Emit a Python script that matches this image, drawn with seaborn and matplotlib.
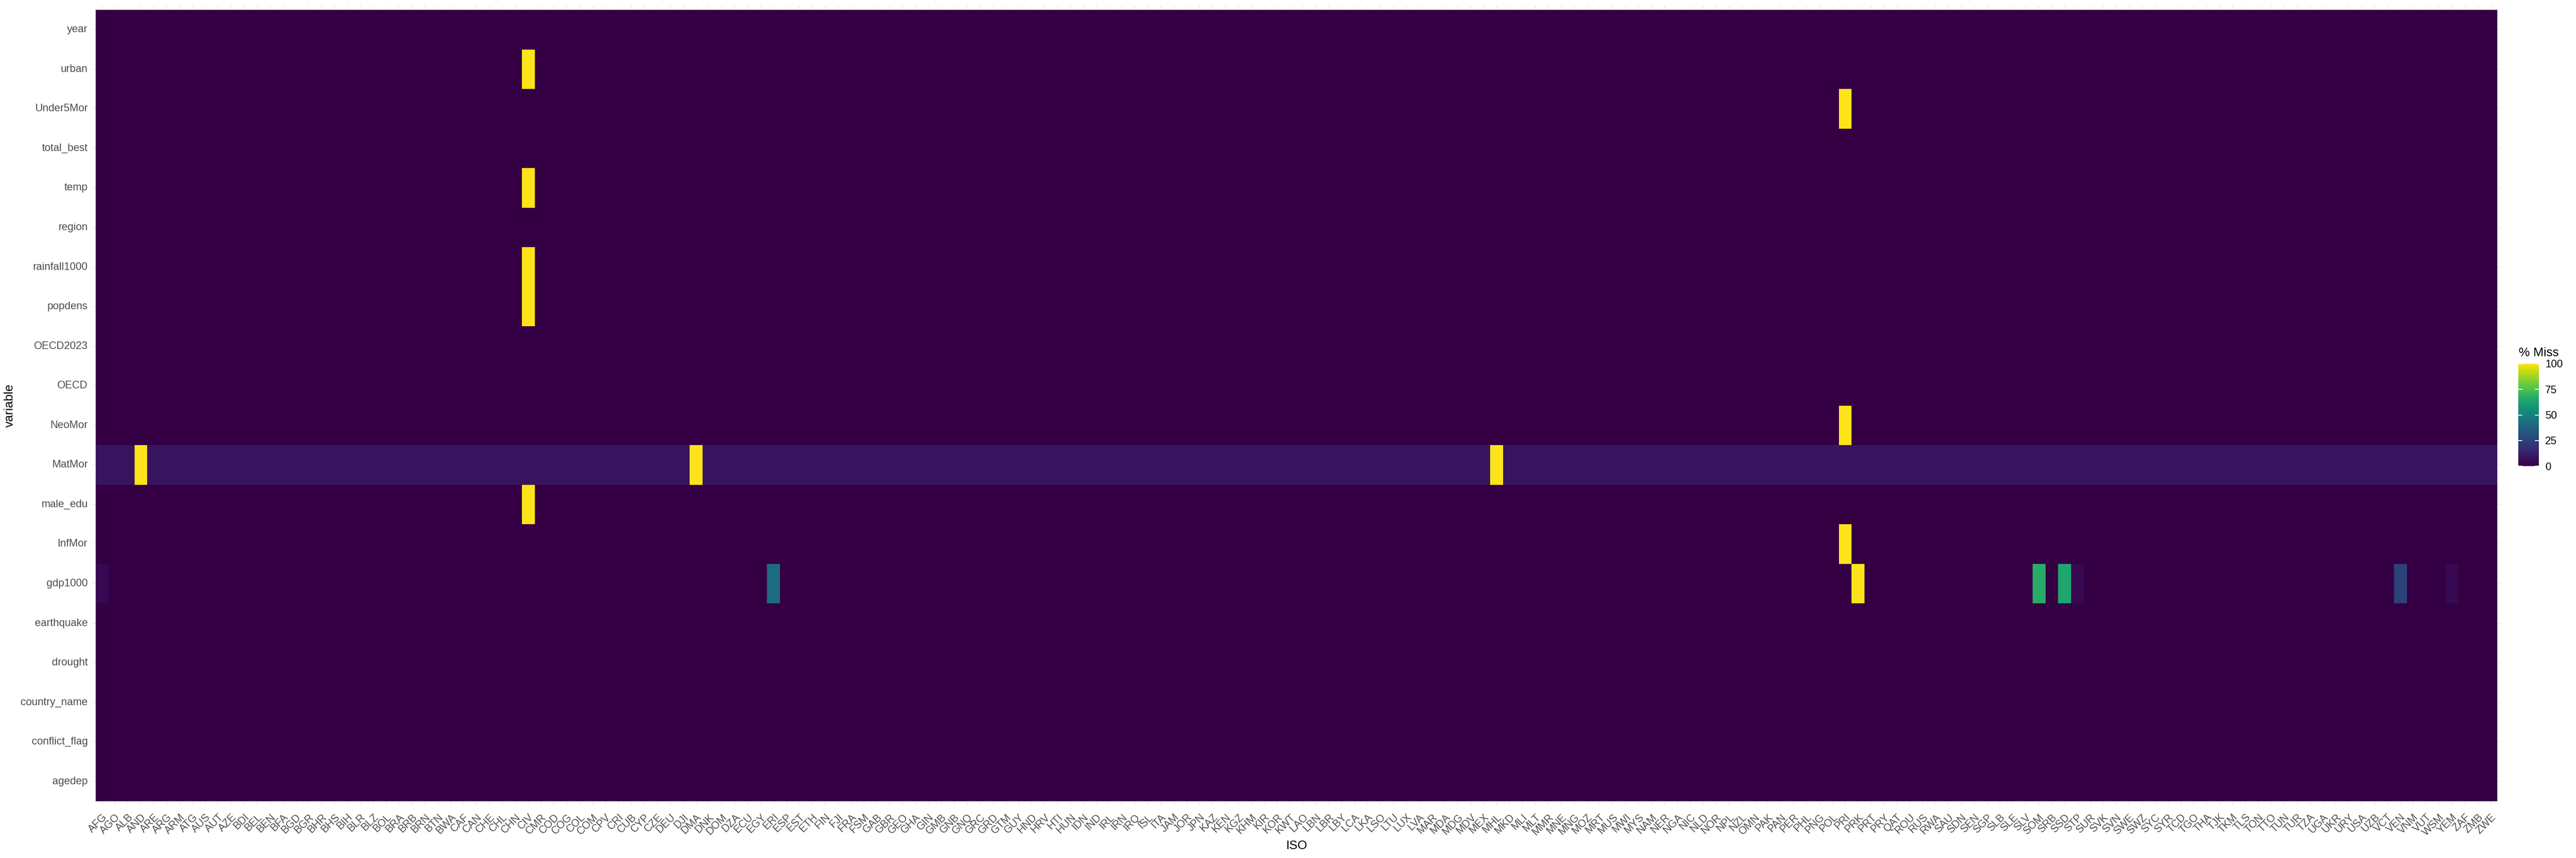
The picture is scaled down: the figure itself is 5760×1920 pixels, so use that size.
# Mapa de calor del % de valores faltantes por pais (ISO) y variable
import numpy as np
import pandas as pd
import matplotlib
matplotlib.use("Agg")
import matplotlib.pyplot as plt
from matplotlib.colors import ListedColormap
import seaborn as sns

# Paises (eje x)
iso = ["AFG", "AGO", "ALB", "AND", "ARE", "ARG", "ARM", "ATG", "AUS", "AUT",
       "AZE", "BDI", "BEL", "BEN", "BFA", "BGD", "BGR", "BHR", "BHS", "BIH",
       "BLR", "BLZ", "BOL", "BRA", "BRB", "BRN", "BTN", "BWA", "CAF", "CAN",
       "CHE", "CHL", "CHN", "CIV", "CMR", "COD", "COG", "COL", "COM", "CPV",
       "CRI", "CUB", "CYP", "CZE", "DEU", "DJI", "DMA", "DNK", "DOM", "DZA",
       "ECU", "EGY", "ERI", "ESP", "EST", "ETH", "FIN", "FJI", "FRA", "FSM",
       "GAB", "GBR", "GEO", "GHA", "GIN", "GMB", "GNB", "GNQ", "GRC", "GRD",
       "GTM", "GUY", "HND", "HRV", "HTI", "HUN", "IDN", "IND", "IRL", "IRN",
       "IRQ", "ISL", "ITA", "JAM", "JOR", "JPN", "KAZ", "KEN", "KGZ", "KHM",
       "KIR", "KOR", "KWT", "LAO", "LBN", "LBR", "LBY", "LCA", "LKA", "LSO",
       "LTU", "LUX", "LVA", "MAR", "MDA", "MDG", "MDV", "MEX", "MHL", "MKD",
       "MLI", "MLT", "MMR", "MNE", "MNG", "MOZ", "MRT", "MUS", "MWI", "MYS",
       "NAM", "NER", "NGA", "NIC", "NLD", "NOR", "NPL", "NZL", "OMN", "PAK",
       "PAN", "PER", "PHL", "PNG", "POL", "PRI", "PRK", "PRT", "PRY", "QAT",
       "ROU", "RUS", "RWA", "SAU", "SDN", "SEN", "SGP", "SLB", "SLE", "SLV",
       "SOM", "SRB", "SSD", "STP", "SUR", "SVK", "SVN", "SWE", "SWZ", "SYC",
       "SYR", "TCD", "TGO", "THA", "TJK", "TKM", "TLS", "TON", "TTO", "TUN",
       "TUR", "TZA", "UGA", "UKR", "URY", "USA", "UZB", "VCT", "VEN", "VNM",
       "VUT", "WSM", "YEM", "ZAF", "ZMB", "ZWE"]

# Variables (de arriba hacia abajo)
variables = ["year", "urban", "Under5Mor", "total_best", "temp", "region",
             "rainfall1000", "popdens", "OECD2023", "OECD", "NeoMor", "MatMor",
             "male_edu", "InfMor", "gdp1000", "earthquake", "drought",
             "country_name", "conflict_flag", "agedep"]

# % faltante que tiene casi todo pais en cada variable
base_miss = {"MatMor": 8.3}

# Celdas que se salen del valor base
urban_miss = {"CIV": 100}
under5_miss = {"PRI": 100}
temp_miss = {"CIV": 100}
rainfall_miss = {"CIV": 100}
popdens_miss = {"CIV": 100}
neomor_miss = {"PRI": 100}
matmor_miss = {"AND": 100, "DMA": 100, "MHL": 100}
male_edu_miss = {"CIV": 100}
infmor_miss = {"PRI": 100}
gdp_miss = {"AFG": 4.2, "ERI": 41.7, "PRK": 100, "SOM": 66.7, "SSD": 64.0,
            "STP": 4.2, "VEN": 25.0, "YEM": 4.2}

excepciones = {"urban": urban_miss, "Under5Mor": under5_miss, "temp": temp_miss,
               "rainfall1000": rainfall_miss, "popdens": popdens_miss,
               "NeoMor": neomor_miss, "MatMor": matmor_miss,
               "male_edu": male_edu_miss, "InfMor": infmor_miss,
               "gdp1000": gdp_miss}

# Armamos la tabla variable x pais
miss = pd.DataFrame(0.0, index=variables, columns=iso)
for v in variables:
    miss.loc[v, :] = base_miss.get(v, 0.0)
    for pais, valor in excepciones.get(v, {}).items():
        miss.loc[v, pais] = valor

# Paleta viridis algo mas oscura, como en la imagen original
colores = plt.cm.viridis(np.linspace(0, 1, 256))
colores[:, :3] = colores[:, :3] ** 1.2
cmap = ListedColormap(colores)

plt.rcParams["font.family"] = ["Liberation Sans", "DejaVu Sans"]

W, H = 5760, 1920
fig = plt.figure(figsize=(W / 100, H / 100), dpi=100)
ax = fig.add_axes([214 / W, 127 / H, 5370 / W, 1771 / H])
cax = fig.add_axes([5631 / W, 877 / H, 46 / W, 229 / H])

sns.heatmap(miss, ax=ax, cmap=cmap, vmin=0, vmax=100, cbar_ax=cax,
            xticklabels=iso, yticklabels=variables, linewidths=0)

# Ejes estilo ggplot (ticks grises claros en los cuatro lados)
ax.tick_params(axis="both", direction="out", length=5.8, width=1.4,
               color="#EBEBEB", labelcolor="#4D4D4D", labelsize=17)
ax.tick_params(axis="x", top=True, bottom=True, labeltop=False, pad=12)
ax.tick_params(axis="y", left=True, right=True, labelright=False, pad=7)
for lab in ax.get_xticklabels():
    lab.set_rotation(45)
    lab.set_ha("right")
    lab.set_va("top")
    lab.set_rotation_mode("anchor")
for lab in ax.get_yticklabels():
    lab.set_rotation(0)

ax.set_xlabel("ISO", fontsize=20, color="black")
ax.set_ylabel("variable", fontsize=20, color="black")
ax.xaxis.set_label_coords(0.5, -(1893 - 1793) / 1771)
ax.xaxis.label.set_va("center")
ax.yaxis.set_label_coords(-(214 - 22) / 5370, 0.5)
ax.yaxis.label.set_va("center")

# Barra de color
cbar = ax.collections[0].colorbar
cbar.outline.set_visible(False)
cbar.set_ticks([0, 25, 50, 75, 100])
cax.tick_params(direction="in", color="white", length=6.5, width=1.4,
                left=True, right=True, labelsize=17, labelcolor="black", pad=10)
fig.text(5632 / W, 1 - 797 / H, "% Miss", ha="left", va="baseline",
         fontsize=20, color="black")

fig.savefig("out.png", dpi=100)
